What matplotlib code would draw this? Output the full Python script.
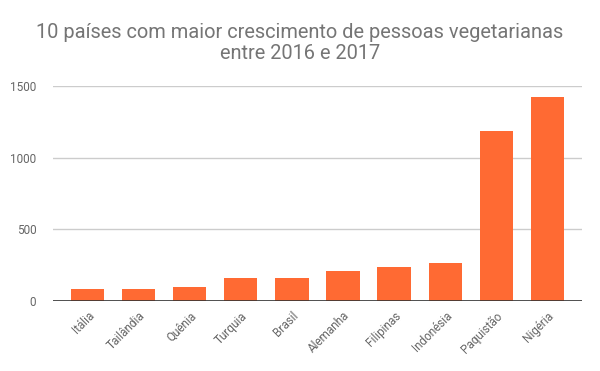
import matplotlib.pyplot as plt

paises = ["Itália", "Tailândia", "Quênia", "Turquia", "Brasil",
          "Alemanha", "Filipinas", "Indonésia", "Paquistão", "Nigéria"]
valores = [84, 84, 98, 160, 160, 209, 237, 265, 1186, 1423]
yticks = [0, 500, 1000, 1500]

plt.rcParams['font.family'] = ['Roboto', 'DejaVu Sans']

fig = plt.figure(figsize=(6, 3.71), dpi=100)
ax = fig.add_axes([0.0883, 0.1887, 0.97 - 0.0883, 0.768 - 0.1887])

x = range(len(paises))
ax.bar(x, valores, width=0.65, color="#ff6a33", zorder=3)

ax.set_xlim(-0.68, len(paises) - 0.32)
ax.set_ylim(0, 1500)
ax.set_yticks(yticks)
ax.set_yticklabels([str(v) for v in yticks])
ax.set_xticks(list(x))
ax.set_xticklabels(paises, rotation=45, ha="right", rotation_mode="anchor")

ax.grid(axis="y", color="#cccccc", linewidth=1, zorder=0)
ax.axhline(0, color="#333333", linewidth=1.2, zorder=4)
for s in ax.spines.values():
    s.set_visible(False)
ax.tick_params(axis="both", length=0, labelsize=8.5, labelcolor="#666666")
ax.tick_params(axis="y", pad=12)
ax.tick_params(axis="x", pad=6)

fig.text(0.5, 0.938, "10 países com maior crescimento de pessoas vegetarianas\nentre 2016 e 2017",
         ha="center", va="top", fontsize=14.4, color="#757575", linespacing=1.15)

fig.savefig("out.png", dpi=100)
